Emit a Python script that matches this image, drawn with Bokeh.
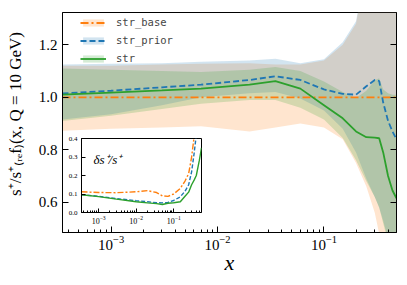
from bokeh.plotting import figure
from bokeh.models import (Range1d, LinearAxis, FixedTicker, Label, Legend, LegendItem,
                          CustomJSTickFormatter)
from bokeh.embed import file_html
from bokeh.resources import INLINE

# ---------------- data ----------------
x_main = [3.5e-4, 1e-3, 3e-3, 7e-3, 0.02, 0.035, 0.06, 0.1, 0.15, 0.2, 0.25, 0.3, 0.33, 0.36, 0.4, 0.44, 0.48]

base_mid = [1.0, 1.0, 1.0, 1.0, 1.0, 1.0, 1.0, 1.0, 1.0, 1.0, 1.0, 1.0, 1.0, 1.0, 1.0, 1.0, 1.0]
base_lo = [0.873, 0.88, 0.885, 0.89, 0.87, 0.885, 0.9, 0.885, 0.84, 0.75, 0.66, 0.56, 0.48, 0.42, 0.36, 0.32, 0.30]
base_hi = [1.12, 1.12, 1.125, 1.128, 1.13, 1.125, 1.125, 1.14, 1.2, 1.28, 1.5, 1.8, 2.0, 2.0, 2.0, 2.0, 2.0]

prior_mid = [1.015, 1.025, 1.038, 1.048, 1.066, 1.08, 1.066, 1.03, 1.013, 1.01, 1.042, 1.066, 1.062, 0.98, 0.91, 0.87, 0.84]
prior_lo = [0.915, 0.935, 0.97, 1.0, 1.015, 1.02, 0.995, 0.95, 0.88, 0.79, 0.69, 0.62, 0.58, 0.53, 0.46, 0.40, 0.35]
prior_hi = [1.125, 1.128, 1.13, 1.135, 1.14, 1.147, 1.13, 1.145, 1.21, 1.29, 1.5, 1.8, 2.0, 2.0, 2.0, 2.0, 2.0]

str_mid = [1.01, 1.018, 1.026, 1.033, 1.048, 1.062, 1.033, 0.97, 0.92, 0.87, 0.848, 0.846, 0.844, 0.79, 0.70, 0.645, 0.615]
str_lo = [0.91, 0.93, 0.955, 0.975, 0.99, 0.99, 0.96, 0.915, 0.845, 0.76, 0.68, 0.62, 0.58, 0.52, 0.45, 0.40, 0.35]
str_hi = [1.11, 1.105, 1.1, 1.096, 1.105, 1.115, 1.1, 1.06, 1.02, 0.997, 1.025, 1.065, 1.073, 1.03, 1.015, 1.01, 1.01]

x_inset = [3.5e-4, 1e-3, 3e-3, 0.01, 0.02, 0.035, 0.05, 0.07, 0.1, 0.15, 0.2, 0.25, 0.3, 0.35, 0.4, 0.48, 0.55]
d_base = [0.112, 0.108, 0.107, 0.112, 0.118, 0.108, 0.09, 0.087, 0.1, 0.13, 0.17, 0.21, 0.3, 0.41, 0.55, 0.7, 0.8]
d_prior = [0.096, 0.088, 0.075, 0.064, 0.058, 0.053, 0.052, 0.055, 0.065, 0.085, 0.115, 0.15, 0.22, 0.32, 0.42, 0.6, 0.7]
d_str = [0.096, 0.086, 0.072, 0.058, 0.052, 0.048, 0.043, 0.05, 0.053, 0.058, 0.088, 0.11, 0.15, 0.175, 0.2, 0.28, 0.35]

series_names = ["str_base", "str_prior", "str"]
y_title = "\u2002\u2002s⁺/s⁺₍ᵣₑf₎(x, Q = 10 GeV)"
x_title = "x"
inset_title = "δs⁺/s⁺"
y_major_ticks = [0.6, 0.8, 1.0, 1.2]
inset_y_ticks = [0.0, 0.1, 0.2, 0.3, 0.4]
x_major_ticks = [1e-3, 1e-2, 1e-1]
x_minor_ticks = [4e-4, 5e-4, 6e-4, 7e-4, 8e-4, 9e-4,
                 2e-3, 3e-3, 4e-3, 5e-3, 6e-3, 7e-3, 8e-3, 9e-3,
                 2e-2, 3e-2, 4e-2, 5e-2, 6e-2, 7e-2, 8e-2, 9e-2,
                 2e-1, 3e-1, 4e-1, 5e-1]

ORANGE = "#ff7f0e"
BLUE = "#1f77b4"
GREEN = "#2ca02c"
SERIF = "Liberation Serif"

# ---------------- main figure ----------------
p = figure(width=407, height=285, x_axis_type="log",
           x_range=Range1d(3.5e-4, 0.48), y_range=Range1d(0.485, 1.323),
           output_backend="svg", toolbar_location=None,
           min_border_left=62, min_border_right=11, min_border_top=12, min_border_bottom=53)
p.xgrid.visible = False
p.ygrid.visible = False
p.outline_line_color = "black"
p.outline_line_width = 1

b_base = p.varea(x=x_main, y1=base_lo, y2=base_hi, fill_color=ORANGE, fill_alpha=0.2)
b_prior = p.varea(x=x_main, y1=prior_lo, y2=prior_hi, fill_color=BLUE, fill_alpha=0.2)
b_str = p.varea(x=x_main, y1=str_lo, y2=str_hi, fill_color=GREEN, fill_alpha=0.2)
l_base = p.line(x_main, base_mid, line_color=ORANGE, line_width=1.8, line_dash="8 3 2 3")
l_prior = p.line(x_main, prior_mid, line_color=BLUE, line_width=1.8, line_dash="6 3")
l_str = p.line(x_main, str_mid, line_color=GREEN, line_width=1.8)

p.xaxis[0].ticker = FixedTicker(ticks=x_major_ticks, minor_ticks=x_minor_ticks)
p.yaxis[0].ticker = FixedTicker(ticks=y_major_ticks, minor_ticks=[])
p.yaxis[0].formatter = CustomJSTickFormatter(code="return tick.toFixed(1)")

def style_axis(ax, size, tick_in, minor_in):
    ax.axis_line_color = "black"
    ax.major_tick_line_color = "black"
    ax.minor_tick_line_color = "black"
    ax.major_tick_in = tick_in
    ax.major_tick_out = 0
    ax.minor_tick_in = minor_in
    ax.minor_tick_out = 0
    ax.major_label_text_font = SERIF
    ax.major_label_text_font_size = size
    ax.major_label_text_color = "black"

style_axis(p.xaxis[0], "15px", 6, 3)
style_axis(p.yaxis[0], "15px", 6, 0)
p.xaxis[0].major_label_standoff = 3
p.yaxis[0].major_label_standoff = 5

p.yaxis[0].axis_label = y_title
p.yaxis[0].axis_label_text_font = SERIF
p.yaxis[0].axis_label_text_font_size = "17px"
p.yaxis[0].axis_label_text_font_style = "normal"
p.yaxis[0].axis_label_text_color = "black"
p.yaxis[0].axis_label_standoff = 11

p.xaxis[0].axis_label = x_title
p.xaxis[0].axis_label_text_font = SERIF
p.xaxis[0].axis_label_text_font_size = "22px"
p.xaxis[0].axis_label_text_font_style = "italic"
p.xaxis[0].axis_label_text_color = "black"
p.xaxis[0].axis_label_standoff = -3

right = LinearAxis(ticker=FixedTicker(ticks=y_major_ticks, minor_ticks=[]),
                   formatter=CustomJSTickFormatter(code="return ''"))
style_axis(right, "1px", 6, 0)
right.major_label_standoff = 0
p.add_layout(right, "right")

legend = Legend(items=[
    LegendItem(label=series_names[0], renderers=[b_base, l_base]),
    LegendItem(label=series_names[1], renderers=[b_prior, l_prior]),
    LegendItem(label=series_names[2], renderers=[b_str, l_str]),
], location=(18, 167))
legend.label_text_font = "DejaVu Sans Mono"
legend.label_text_font_size = "10.5px"
legend.glyph_width = 26
legend.glyph_height = 9
legend.label_height = 14
legend.spacing = 4
legend.padding = 0
legend.margin = 0
legend.label_standoff = 10
legend.background_fill_alpha = 0
legend.border_line_alpha = 0
p.add_layout(legend)

# ---------------- inset (placed over the main plot) ----------------
q = figure(width=147, height=92, x_axis_type="log",
           x_range=Range1d(3.5e-4, 0.55), y_range=Range1d(0.0, 0.4),
           output_backend="svg", toolbar_location=None,
           min_border_left=25, min_border_right=2, min_border_top=4, min_border_bottom=13,
           styles={"position": "absolute", "left": "56px", "top": "134px", "z-index": "10"})
q.xgrid.visible = False
q.ygrid.visible = False
q.outline_line_color = "black"
q.border_fill_color = None
q.background_fill_color = "white"
q.line(x_inset, d_base, line_color=ORANGE, line_width=1.4, line_dash="6 2 2 2")
q.line(x_inset, d_prior, line_color=BLUE, line_width=1.4, line_dash="4 2")
q.line(x_inset, d_str, line_color=GREEN, line_width=1.4)
q.xaxis[0].ticker = FixedTicker(ticks=x_major_ticks, minor_ticks=x_minor_ticks)
q.yaxis[0].ticker = FixedTicker(ticks=inset_y_ticks, minor_ticks=[])
q.yaxis[0].formatter = CustomJSTickFormatter(code="return tick.toFixed(1)")
style_axis(q.xaxis[0], "8px", 4, 2)
style_axis(q.yaxis[0], "7px", 4, 0)
q.xaxis[0].major_label_standoff = 3
q.yaxis[0].major_label_standoff = 4
q.add_layout(Label(x=12, y=53, x_units="screen", y_units="screen", text=inset_title,
                   text_font=SERIF, text_font_size="13px", text_font_style="italic",
                   text_align="left", text_baseline="alphabetic", text_color="black"))

open("out.html", "w").write(file_html([p, q], INLINE))
